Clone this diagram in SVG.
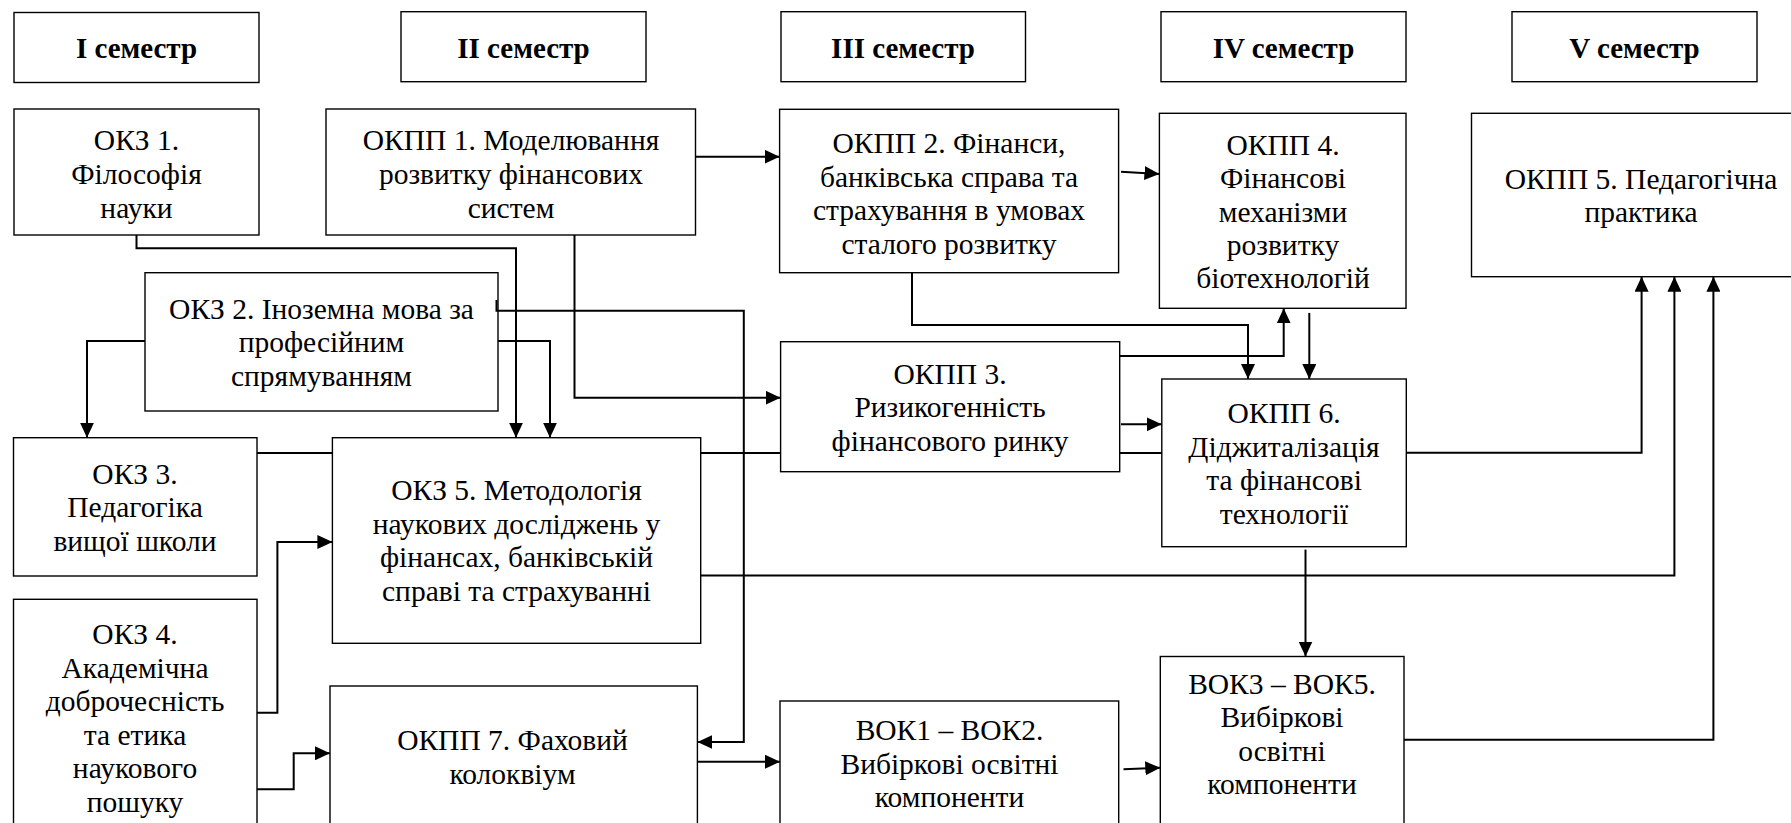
<svg xmlns="http://www.w3.org/2000/svg" width="1791" height="823" viewBox="0 0 1791 823" font-family="'Liberation Serif', 'Times New Roman', Tinos, 'DejaVu Serif', serif">
<style>
.box{fill:#fff;stroke:#000;stroke-width:1.4}
.t{font-family:'Liberation Serif','Times New Roman',Tinos,'DejaVu Serif',serif;font-size:29.5px;text-anchor:middle;fill:#000}
.h{font-weight:bold;font-size:29px}
.c{fill:none;stroke:#000;stroke-width:2}
.a{marker-end:url(#ah)}
</style>
<defs>
<marker id="ah" viewBox="0 0 15 14" refX="15" refY="7" markerWidth="15" markerHeight="14" markerUnits="userSpaceOnUse" orient="auto">
<path d="M0,0 L15,7 L0,14 z" fill="#000"/>
</marker>
</defs>
<rect width="1791" height="823" fill="#fff"/>

<g id="hdr1"><rect class="box" x="14" y="12.5" width="245" height="70"/><text class="t h" x="136.5" y="57.5">I семестр</text></g>
<g id="hdr2"><rect class="box" x="401" y="11.7" width="245" height="70"/><text class="t h" x="523.5" y="57.5">II семестр</text></g>
<g id="hdr3"><rect class="box" x="781" y="11.7" width="244.5" height="70"/><text class="t h" x="903" y="57.5">III семестр</text></g>
<g id="hdr4"><rect class="box" x="1161" y="11.7" width="245" height="70"/><text class="t h" x="1283.5" y="57.5">IV семестр</text></g>
<g id="hdr5"><rect class="box" x="1512" y="11.7" width="245" height="70"/><text class="t h" x="1634.5" y="57.5">V семестр</text></g>

<g id="okz1"><rect class="box" x="14" y="109" width="245" height="126"/>
<text class="t" x="136.5" y="150">ОКЗ 1.</text><text class="t" x="136.5" y="184">Філософія</text><text class="t" x="136.5" y="218">науки</text></g>

<g id="okpp1"><rect class="box" x="326" y="109" width="369.5" height="126"/>
<text class="t" x="511" y="150">ОКПП 1. Моделювання</text><text class="t" x="511" y="184">розвитку фінансових</text><text class="t" x="511" y="218">систем</text></g>

<g id="okpp2"><rect class="box" x="779.6" y="109.3" width="339" height="163.4"/>
<text class="t" x="949" y="153">ОКПП 2. Фінанси,</text><text class="t" x="949" y="186.5">банківська справа та</text><text class="t" x="949" y="220">страхування в умовах</text><text class="t" x="949" y="253.5">сталого розвитку</text></g>

<g id="okpp4"><rect class="box" x="1159.4" y="113.3" width="246.6" height="195"/>
<text class="t" x="1283" y="155">ОКПП 4.</text><text class="t" x="1283" y="188.3">Фінансові</text><text class="t" x="1283" y="221.6">механізми</text><text class="t" x="1283" y="254.9">розвитку</text><text class="t" x="1283" y="288.3">біотехнологій</text></g>

<g id="okpp5"><rect class="box" x="1471.5" y="113.3" width="340" height="163.4"/>
<text class="t" x="1641" y="188.5">ОКПП 5. Педагогічна</text><text class="t" x="1641" y="222">практика</text></g>

<g id="okz2"><rect class="box" x="145" y="272.7" width="353" height="138.3"/>
<text class="t" x="321.5" y="318.5">ОКЗ 2. Іноземна мова за</text><text class="t" x="321.5" y="352">професійним</text><text class="t" x="321.5" y="385.5">спрямуванням</text></g>

<g id="okz3"><rect class="box" x="13.5" y="437.7" width="243.5" height="138.3"/>
<text class="t" x="135" y="483.5">ОКЗ 3.</text><text class="t" x="135" y="517">Педагогіка</text><text class="t" x="135" y="550.5">вищої школи</text></g>

<g id="okz5"><rect class="box" x="332.4" y="437.7" width="368.3" height="205.6"/>
<text class="t" x="516.5" y="500">ОКЗ 5. Методологія</text><text class="t" x="516.5" y="533.5">наукових досліджень у</text><text class="t" x="516.5" y="567">фінансах, банківській</text><text class="t" x="516.5" y="600.5">справі та страхуванні</text></g>

<g id="okpp3"><rect class="box" x="780.6" y="341.7" width="339.1" height="130"/>
<text class="t" x="950" y="383.5">ОКПП 3.</text><text class="t" x="950" y="417">Ризикогенність</text><text class="t" x="950" y="450.5">фінансового ринку</text></g>

<g id="okpp6"><rect class="box" x="1161.8" y="379" width="244.5" height="167.7"/>
<text class="t" x="1284" y="423">ОКПП 6.</text><text class="t" x="1284" y="456.5">Діджиталізація</text><text class="t" x="1284" y="490">та фінансові</text><text class="t" x="1284" y="523.5">технології</text></g>

<g id="okz4"><rect class="box" x="13.5" y="599.3" width="243.5" height="240"/>
<text class="t" x="135" y="644">ОКЗ 4.</text><text class="t" x="135" y="677.5">Академічна</text><text class="t" x="135" y="711">доброчесність</text><text class="t" x="135" y="744.5">та етика</text><text class="t" x="135" y="778">наукового</text><text class="t" x="135" y="811.5">пошуку</text></g>

<g id="okpp7"><rect class="box" x="330" y="686" width="367.4" height="145"/>
<text class="t" x="512.5" y="750">ОКПП 7. Фаховий</text><text class="t" x="512.5" y="783.5">колоквіум</text></g>

<g id="vok12"><rect class="box" x="780" y="701" width="338.7" height="130"/>
<text class="t" x="949.5" y="740">ВОК1 – ВОК2.</text><text class="t" x="949.5" y="773.5">Вибіркові освітні</text><text class="t" x="949.5" y="807">компоненти</text></g>

<g id="vok35"><rect class="box" x="1160.3" y="656.5" width="243.7" height="175"/>
<text class="t" x="1282" y="693.5">ВОК3 – ВОК5.</text><text class="t" x="1282" y="727">Вибіркові</text><text class="t" x="1282" y="760.5">освітні</text><text class="t" x="1282" y="794">компоненти</text></g>

<g id="connectors">
<path class="c a" d="M136.5,235 V248.3 H516 V437.7"/>
<path class="c a" d="M574.5,235 V397.7 H780.6"/>
<path class="c a" d="M695.5,156.7 H779.6"/>
<path class="c a" d="M145,341 H87 V437.7"/>
<path class="c a" d="M498,341 H550 V437.7"/>
<path class="c a" d="M496.5,300 V310.7 H743.8 V742 H697.4"/>
<path class="c" d="M257,453 H332.4 M700.7,453 H780.6 M1119.7,453 H1161.8"/>
<path class="c a" d="M257,712.7 H277.4 V542 H332.4"/>
<path class="c a" d="M257,789.3 H293.7 V753.3 H330"/>
<path class="c a" d="M697.4,761.7 H780"/>
<path class="c a" d="M1123.5,769.3 L1160.3,767.7"/>
<path class="c a" d="M1121,171.7 L1159.4,174"/>
<path class="c a" d="M912,272.7 V325 H1248 V379"/>
<path class="c a" d="M1119.7,356 H1283.7 V308.3"/>
<path class="c a" d="M1309.3,312.9 V379"/>
<path class="c a" d="M1121,424.3 H1161.8"/>
<path class="c a" d="M1406.3,452.8 H1641.6 V276.7"/>
<path class="c a" d="M700.7,575.5 H1674.4 V276.7"/>
<path class="c a" d="M1305.5,549.6 V656.5"/>
<path class="c a" d="M1404,739.7 H1713.4 V276.7"/>
</g>
</svg>
